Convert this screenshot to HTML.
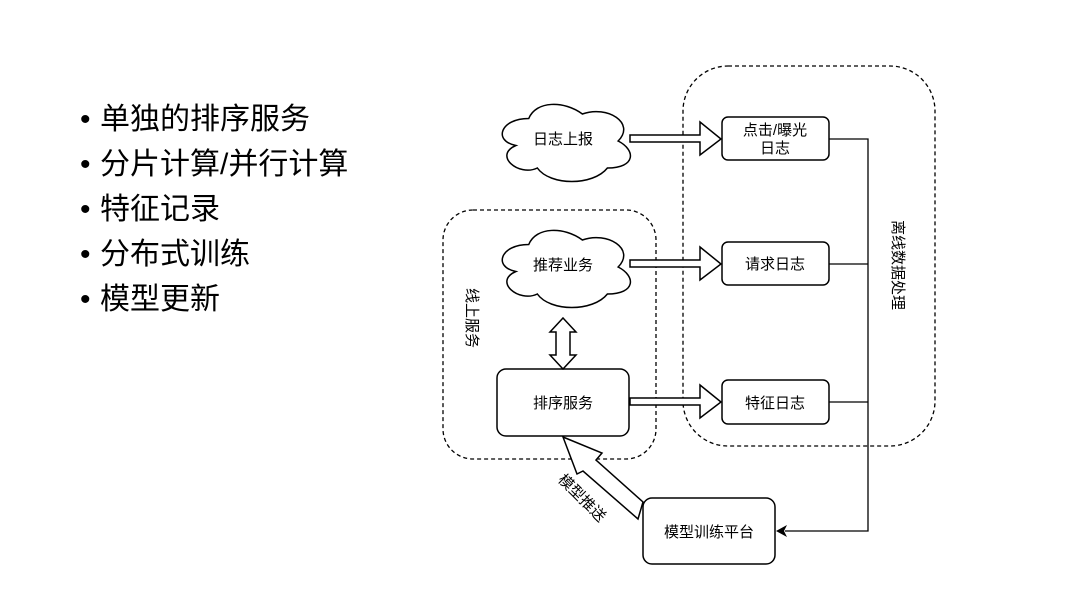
<!DOCTYPE html>
<html><head><meta charset="utf-8"><style>
html,body{margin:0;padding:0;background:#fff;}
body{width:1080px;height:600px;overflow:hidden;position:relative;font-family:"Liberation Sans","Noto Sans CJK SC",sans-serif;}
.list{position:absolute;left:80px;top:97px;font-size:30px;line-height:45px;color:#000;}
.list div{white-space:nowrap;}
.list span{display:inline-block;width:20px;}
</style></head><body>
<div class="list">
<div><span>•</span>单独的排序服务</div>
<div><span>•</span>分片计算/并行计算</div>
<div><span>•</span>特征记录</div>
<div><span>•</span>分布式训练</div>
<div><span>•</span>模型更新</div>
</div>
<svg width="1080" height="600" style="position:absolute;left:0;top:0" font-family="Liberation Sans, Noto Sans CJK SC, sans-serif">
<g fill="none" stroke="#000" stroke-width="1.3" stroke-dasharray="4,3">
<rect x="683" y="66" width="252" height="380" rx="45"/>
<rect x="443" y="210" width="213" height="249" rx="30"/>
</g>
<g fill="#fff" stroke="#000" stroke-width="1.5">
<path transform="translate(493,96) scale(143,90)" vector-effect="non-scaling-stroke" d="M0.25 0.25 C0.05 0.25 0 0.5 0.16 0.55 C0 0.66 0.18 0.9 0.31 0.8 C0.4 1 0.7 1 0.8 0.8 C1 0.8 1 0.6 0.875 0.5 C1 0.3 0.8 0.1 0.625 0.2 C0.5 0.05 0.3 0.05 0.25 0.25 Z"/>
<path transform="translate(493,222) scale(143,90)" vector-effect="non-scaling-stroke" d="M0.25 0.25 C0.05 0.25 0 0.5 0.16 0.55 C0 0.66 0.18 0.9 0.31 0.8 C0.4 1 0.7 1 0.8 0.8 C1 0.8 1 0.6 0.875 0.5 C1 0.3 0.8 0.1 0.625 0.2 C0.5 0.05 0.3 0.05 0.25 0.25 Z"/>
<rect x="722" y="117" width="107" height="43" rx="6"/>
<rect x="722" y="242" width="107" height="43" rx="6"/>
<rect x="722" y="380" width="107" height="44" rx="6"/>
<rect x="497" y="369" width="132" height="67" rx="9"/>
<rect x="643" y="498" width="132" height="66" rx="9"/>
<!-- hollow arrows -->
<polygon points="630,135 700,135 700,122 721,139 700,155 700,142 630,142"/>
<polygon points="630,260 700,260 700,247 721,264 700,280 700,267 630,267"/>
<polygon points="630,398 700,398 700,385 721,402 700,418 700,405 630,405"/>
<polygon points="563,318 576,332 570,332 570,355 576,355 563,369 550,355 556,355 556,332 550,332"/>
<polygon points="563,437 602,453 596,460 643,502 638,519 583,471 577,474"/>
</g>
<g fill="none" stroke="#000" stroke-width="1.3">
<polyline points="829,139 868,139 868,531 785,531"/>
<line x1="829" y1="264" x2="868" y2="264"/>
<line x1="829" y1="402" x2="868" y2="402"/>
</g>
<polygon points="776,531 787,525 784,531 787,537" fill="#000"/>
<g font-size="15" text-anchor="middle" fill="#000">
<text x="563" y="144">日志上报</text>
<text x="563" y="270">推荐业务</text>
<text x="775" y="135">点击/曝光</text>
<text x="775" y="153">日志</text>
<text x="775" y="269">请求日志</text>
<text x="775" y="408">特征日志</text>
<text x="563" y="408">排序服务</text>
<text x="709" y="537">模型训练平台</text>
<text transform="translate(582,498) rotate(45)" y="5">模型推送</text>
<text transform="translate(472,318) rotate(90)" y="5">线上服务</text>
<text transform="translate(898,265) rotate(90)" y="5">离线数据处理</text>
</g>
</svg>
</body></html>
